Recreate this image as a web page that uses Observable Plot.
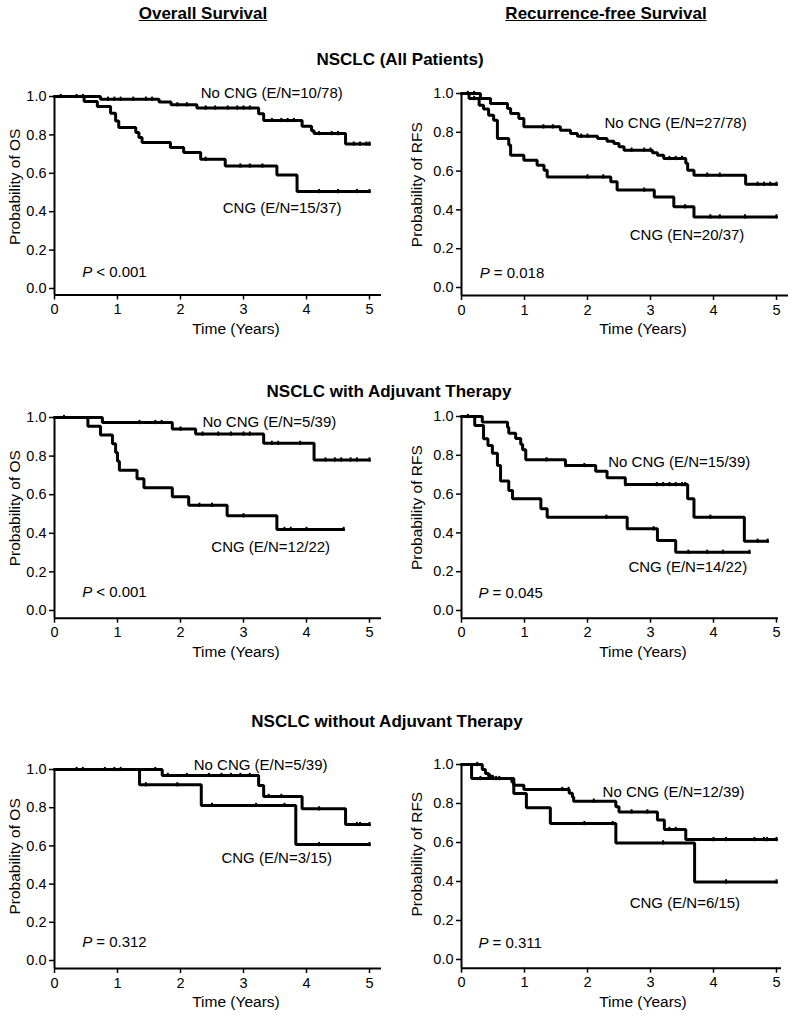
<!DOCTYPE html>
<html><head><meta charset="utf-8">
<script src="https://cdn.jsdelivr.net/npm/d3@7"></script>
<script src="https://cdn.jsdelivr.net/npm/@observablehq/plot@0.6"></script>
<style>
body{margin:0;background:#fff;}
#root{position:relative;width:795px;height:1016px;font-family:"Liberation Sans",Arial,sans-serif;color:#000;overflow:hidden;}
.h{position:absolute;font-weight:bold;font-size:17px;transform:translate(-50%,-50%);white-space:nowrap;}
.u{text-decoration:underline;}
.panel{position:absolute;}
</style></head><body><div id="root"></div>
<script>
// ---- tick labels ----
const xTicks = [0, 1, 2, 3, 4, 5];
const yTicks = [0, 0.2, 0.4, 0.6, 0.8, 1.0];
const xTitle = "Time (Years)";

// ---- headings ----
const colTitles = ["Overall Survival", "Recurrence-free Survival"];
const rowTitles = ["NSCLC (All Patients)", "NSCLC with Adjuvant Therapy", "NSCLC without Adjuvant Therapy"];

// ---- OS, all patients ----
const osAllNoT = [0.73, 1.66, 1.85, 2.26, 3.24, 3.32, 3.93, 4.08, 4.12, 4.62];
const osAllNoS = [0.986, 0.972, 0.957, 0.94, 0.91, 0.875, 0.845, 0.822, 0.807, 0.752];
const osAllNoEnd = 5.0;
const osAllNoCens = [0.1, 0.35, 0.45, 0.85, 0.95, 1.05, 1.25, 1.45, 1.55, 1.95, 2.1, 2.4, 2.55, 2.75, 2.9, 3.0, 3.1, 3.45, 3.6, 3.7, 3.8, 4.2, 4.4, 4.5, 4.75, 4.85, 4.95, 5.0];
const osAllCngT = [0.47, 0.68, 0.89, 0.97, 1.02, 1.29, 1.34, 1.39, 1.84, 2.05, 2.32, 2.71, 3.53, 3.85];
const osAllCngS = [0.974, 0.948, 0.913, 0.873, 0.838, 0.812, 0.786, 0.76, 0.734, 0.708, 0.673, 0.638, 0.591, 0.505];
const osAllCngEnd = 5.0;
const osAllCngCens = [2.4, 2.95, 3.1, 3.3, 4.2, 4.5, 4.8, 5.0];

// ---- RFS, all patients ----
const rfsAllNoT = [0.30, 0.46, 0.73, 0.78, 0.91, 0.99, 1.57, 1.73, 1.84, 2.16, 2.31, 2.42, 2.50, 2.58, 3.03, 3.11, 3.21, 3.56, 3.59, 3.69, 4.51];
const rfsAllNoS = [0.974, 0.948, 0.923, 0.897, 0.871, 0.828, 0.81, 0.794, 0.78, 0.768, 0.754, 0.742, 0.725, 0.708, 0.694, 0.682, 0.665, 0.64, 0.605, 0.579, 0.532];
const rfsAllNoEnd = 5.0;
const rfsAllNoCens = [0.1, 0.2, 1.3, 1.45, 1.9, 2.0, 2.7, 2.9, 3.0, 3.3, 3.4, 3.5, 3.9, 4.1, 4.7, 4.8, 4.9, 5.0];
const rfsAllCngT = [0.12, 0.28, 0.35, 0.43, 0.51, 0.57, 0.75, 0.78, 0.99, 1.20, 1.31, 1.36, 2.37, 2.47, 3.06, 3.37, 3.69];
const rfsAllCngS = [0.974, 0.94, 0.92, 0.888, 0.862, 0.768, 0.734, 0.682, 0.656, 0.63, 0.605, 0.57, 0.545, 0.502, 0.467, 0.416, 0.364];
const rfsAllCngEnd = 5.0;
const rfsAllCngCens = [0.2, 2.0, 2.25, 2.9, 3.55, 3.95, 4.1, 4.5, 5.0];

// ---- OS, with adjuvant ----
const osAdjNoT = [0.76, 1.87, 2.24, 3.32, 4.12];
const osAdjNoS = [0.974, 0.94, 0.914, 0.866, 0.78];
const osAdjNoEnd = 5.0;
const osAdjNoCens = [0.15, 1.35, 1.6, 1.7, 2.0, 2.35, 2.6, 2.8, 3.0, 3.1, 3.45, 3.55, 3.9, 4.3, 4.45, 4.55, 4.7, 4.8, 5.0];
const osAdjCngT = [0.53, 0.73, 0.92, 0.97, 1.0, 1.03, 1.31, 1.42, 1.87, 2.13, 2.74, 3.53];
const osAdjCngS = [0.955, 0.909, 0.864, 0.818, 0.773, 0.727, 0.682, 0.636, 0.59, 0.545, 0.491, 0.42];
const osAdjCngEnd = 4.59;
const osAdjCngCens = [2.3, 2.5, 3.0, 3.65, 3.75, 4.0, 4.59];

// ---- RFS, with adjuvant ----
const rfsAdjNoT = [0.33, 0.73, 0.75, 0.86, 0.94, 0.97, 1.02, 1.65, 2.13, 2.31, 2.60, 3.59, 3.69, 4.49];
const rfsAdjNoS = [0.971, 0.945, 0.914, 0.886, 0.857, 0.829, 0.777, 0.747, 0.718, 0.684, 0.649, 0.576, 0.481, 0.357];
const rfsAdjNoEnd = 4.86;
const rfsAdjNoCens = [0.1, 1.35, 1.65, 1.95, 2.6, 3.1, 3.2, 3.3, 3.4, 3.5, 3.55, 3.95, 4.7, 4.86];
const rfsAdjCngT = [0.21, 0.35, 0.42, 0.49, 0.57, 0.62, 0.75, 0.81, 1.26, 1.36, 2.63, 3.11, 3.40];
const rfsAdjCngS = [0.954, 0.885, 0.85, 0.811, 0.747, 0.667, 0.619, 0.576, 0.524, 0.481, 0.421, 0.361, 0.30];
const rfsAdjCngEnd = 4.57;
const rfsAdjCngCens = [2.3, 3.05, 3.6, 3.9, 4.15, 4.57];

// ---- OS, without adjuvant ----
const osNoAdjNoT = [1.71, 3.24, 3.32, 3.93, 4.62];
const osNoAdjNoS = [0.969, 0.916, 0.859, 0.794, 0.712];
const osNoAdjNoEnd = 5.0;
const osNoAdjNoCens = [0.35, 0.45, 0.8, 0.95, 1.05, 1.6, 1.8, 2.1, 2.45, 2.65, 2.8, 2.95, 3.1, 3.4, 3.6, 4.2, 4.8, 4.85, 5.0];
const osNoAdjCngT = [1.35, 2.33, 3.83];
const osNoAdjCngS = [0.92, 0.812, 0.607];
const osNoAdjCngEnd = 5.0;
const osNoAdjCngCens = [1.45, 1.95, 2.5, 3.2, 3.65, 4.2, 5.0];

// ---- RFS, without adjuvant ----
const rfsNoAdjNoT = [0.33, 0.38, 0.43, 0.50, 0.80, 0.83, 0.99, 1.71, 1.76, 1.78, 2.45, 2.50, 3.11, 3.22, 3.56];
const rfsNoAdjNoS = [0.974, 0.954, 0.94, 0.928, 0.91, 0.894, 0.872, 0.853, 0.833, 0.812, 0.783, 0.757, 0.715, 0.667, 0.615];
const rfsNoAdjNoEnd = 5.0;
const rfsNoAdjNoCens = [0.25, 0.45, 0.55, 0.6, 1.6, 1.7, 2.1, 2.7, 2.95, 3.3, 3.4, 4.0, 4.2, 4.65, 4.8, 4.85, 5.0];
const rfsNoAdjCngT = [0.16, 0.83, 1.03, 1.41, 2.45, 3.70];
const rfsNoAdjCngS = [0.928, 0.851, 0.778, 0.697, 0.598, 0.398];
const rfsNoAdjCngEnd = 5.0;
const rfsNoAdjCngCens = [0.3, 1.95, 2.4, 3.2, 4.2, 5.0];

// ---- annotation texts (positions in data units) ----
const panelTexts = [
  {yl: "Probability of OS", no: "No CNG (E/N=10/78)", cng: "CNG (E/N=15/37)", p: "< 0.001"},
  {yl: "Probability of RFS", no: "No CNG (E/N=27/78)", cng: "CNG (EN=20/37)", p: "= 0.018"},
  {yl: "Probability of OS", no: "No CNG (E/N=5/39)", cng: "CNG (E/N=12/22)", p: "< 0.001"},
  {yl: "Probability of RFS", no: "No CNG (E/N=15/39)", cng: "CNG (E/N=14/22)", p: "= 0.045"},
  {yl: "Probability of OS", no: "No CNG (E/N=5/39)", cng: "CNG (E/N=3/15)", p: "= 0.312"},
  {yl: "Probability of RFS", no: "No CNG (E/N=12/39)", cng: "CNG (E/N=6/15)", p: "= 0.311"}
];
const noLabelPos = [[2.32, 1.016], [2.27, 0.845], [2.35, 0.974], [2.33, 0.763], [2.21, 1.021], [2.24, 0.856]];
const cngLabelPos = [[2.67, 0.417], [2.67, 0.268], [2.49, 0.326], [2.65, 0.222], [2.65, 0.534], [2.67, 0.287]];
const pLabelPos = [[0.44, 0.083], [0.29, 0.072], [0.44, 0.093], [0.27, 0.088], [0.44, 0.094], [0.27, 0.082]];
const yLabelPos = [0.53, 0.53, 0.53, 0.53, 0.545, 0.54];

// ---- layout (pixels) ----
const layout = [
  {left: 0,   ox: 54,  oy: 96,  zy: 288, lineY: 294.5, xMax: 5.19, yDx: -39},
  {left: 400, ox: 461, oy: 93,  zy: 287, lineY: 295,   xMax: 5.19, yDx: -44},
  {left: 0,   ox: 54,  oy: 417, zy: 610, lineY: 617.7, xMax: 5.19, yDx: -39},
  {left: 400, ox: 461, oy: 416, zy: 610, lineY: 617.7, xMax: 5.03, yDx: -44},
  {left: 0,   ox: 54,  oy: 769, zy: 960, lineY: 968,   xMax: 5.19, yDx: -39},
  {left: 400, ox: 461, oy: 764, zy: 959, lineY: 967.7, xMax: 5.08, yDx: -44}
];

const curves = [
  [[osAllNoT, osAllNoS, osAllNoEnd, osAllNoCens], [osAllCngT, osAllCngS, osAllCngEnd, osAllCngCens]],
  [[rfsAllNoT, rfsAllNoS, rfsAllNoEnd, rfsAllNoCens], [rfsAllCngT, rfsAllCngS, rfsAllCngEnd, rfsAllCngCens]],
  [[osAdjNoT, osAdjNoS, osAdjNoEnd, osAdjNoCens], [osAdjCngT, osAdjCngS, osAdjCngEnd, osAdjCngCens]],
  [[rfsAdjNoT, rfsAdjNoS, rfsAdjNoEnd, rfsAdjNoCens], [rfsAdjCngT, rfsAdjCngS, rfsAdjCngEnd, rfsAdjCngCens]],
  [[osNoAdjNoT, osNoAdjNoS, osNoAdjNoEnd, osNoAdjNoCens], [osNoAdjCngT, osNoAdjCngS, osNoAdjCngEnd, osNoAdjCngCens]],
  [[rfsNoAdjNoT, rfsNoAdjNoS, rfsNoAdjNoEnd, rfsNoAdjNoCens], [rfsNoAdjCngT, rfsNoAdjCngS, rfsNoAdjCngEnd, rfsNoAdjCngCens]]
];

const root = document.getElementById("root");
const FONT = "'Liberation Sans', Arial, sans-serif";
const PXY = 63;
const W = 395;

function stepPoints(times, surv, end, g) {
  const pts = [{t: 0, s: 1, g}];
  times.forEach((t, i) => pts.push({t, s: surv[i], g}));
  pts.push({t: end, s: surv[surv.length - 1], g});
  return pts;
}
function survAt(times, surv, t) {
  let s = 1;
  for (let i = 0; i < times.length; i++) if (times[i] <= t) s = surv[i];
  return s;
}

layout.forEach((cfg, k) => {
  const mL = cfg.ox - cfg.left;
  const mT = 16, mB = 52;
  const plotH = cfg.lineY - cfg.oy;
  const yb = -(cfg.lineY - cfg.zy) / (cfg.zy - cfg.oy);
  const mR = W - mL - cfg.xMax * PXY;
  const H = mT + plotH + mB;
  let lines = [], cens = [];
  curves[k].forEach(([T, S, E, C], gi) => {
    lines = lines.concat(stepPoints(T, S, E, gi));
    C.forEach(t => cens.push({t, s: survAt(T, S, t)}));
  });
  const tx = panelTexts[k];
  const svg = Plot.plot({
    width: W, height: H,
    marginLeft: mL, marginRight: mR, marginTop: mT, marginBottom: mB,
    x: {domain: [0, cfg.xMax]},
    y: {domain: [yb, 1]},
    style: {fontFamily: FONT, fontSize: "14.5px", color: "#000", background: "transparent", overflow: "visible"},
    marks: [
      Plot.axisX(xTicks, {tickSize: 5, tickPadding: 4, strokeWidth: 1.5, label: null, fontSize: 14.5}),
      Plot.axisY(yTicks, {tickSize: 5, tickPadding: 3, strokeWidth: 1.5, label: null, tickFormat: d3.format(".1f"), fontSize: 14.5}),
      Plot.ruleX([0], {y1: yb, y2: 1, strokeWidth: 2}),
      Plot.ruleY([yb], {x1: 0, x2: cfg.xMax, strokeWidth: 2}),
      Plot.line(lines, {x: "t", y: "s", z: "g", curve: "step-after", strokeWidth: 3, strokeLinejoin: "miter"}),
      Plot.ruleX(cens, {x: "t", y1: d => d.s - 0.011, y2: d => d.s + 0.011, strokeWidth: 2}),
      Plot.text([{x: noLabelPos[k][0], y: noLabelPos[k][1], t: tx.no}], {x: "x", y: "y", text: "t", textAnchor: "start", lineAnchor: "middle", fontSize: 15}),
      Plot.text([{x: cngLabelPos[k][0], y: cngLabelPos[k][1], t: tx.cng}], {x: "x", y: "y", text: "t", textAnchor: "start", lineAnchor: "middle", fontSize: 15}),
      Plot.text([{x: pLabelPos[k][0], y: pLabelPos[k][1], t: "P"}], {x: "x", y: "y", text: "t", textAnchor: "start", lineAnchor: "middle", fontSize: 15, fontStyle: "italic"}),
      Plot.text([{x: pLabelPos[k][0], y: pLabelPos[k][1], t: tx.p}], {x: "x", y: "y", text: "t", textAnchor: "start", lineAnchor: "middle", fontSize: 15, dx: 14}),
      Plot.text([{x: 0, y: yLabelPos[k], t: tx.yl}], {x: "x", y: "y", text: "t", rotate: -90, dx: cfg.yDx, lineAnchor: "middle", fontSize: 15.5}),
      Plot.text([{x: 2.88, y: yb, t: xTitle}], {x: "x", y: "y", text: "t", dy: 34, lineAnchor: "middle", fontSize: 15.5})
    ]
  });
  const div = document.createElement("div");
  div.className = "panel";
  div.style.left = cfg.left + "px";
  div.style.top = (cfg.oy - mT) + "px";
  div.appendChild(svg);
  root.appendChild(div);
});

const heads = [
  {t: colTitles[0], x: 203, y: 14, u: true},
  {t: colTitles[1], x: 606, y: 14, u: true},
  {t: rowTitles[0], x: 400, y: 60},
  {t: rowTitles[1], x: 389, y: 392},
  {t: rowTitles[2], x: 387, y: 722}
];
heads.forEach(h => {
  const d = document.createElement("div");
  d.className = "h" + (h.u ? " u" : "");
  d.style.left = h.x + "px";
  d.style.top = h.y + "px";
  d.textContent = h.t;
  root.appendChild(d);
});
</script></body></html>
